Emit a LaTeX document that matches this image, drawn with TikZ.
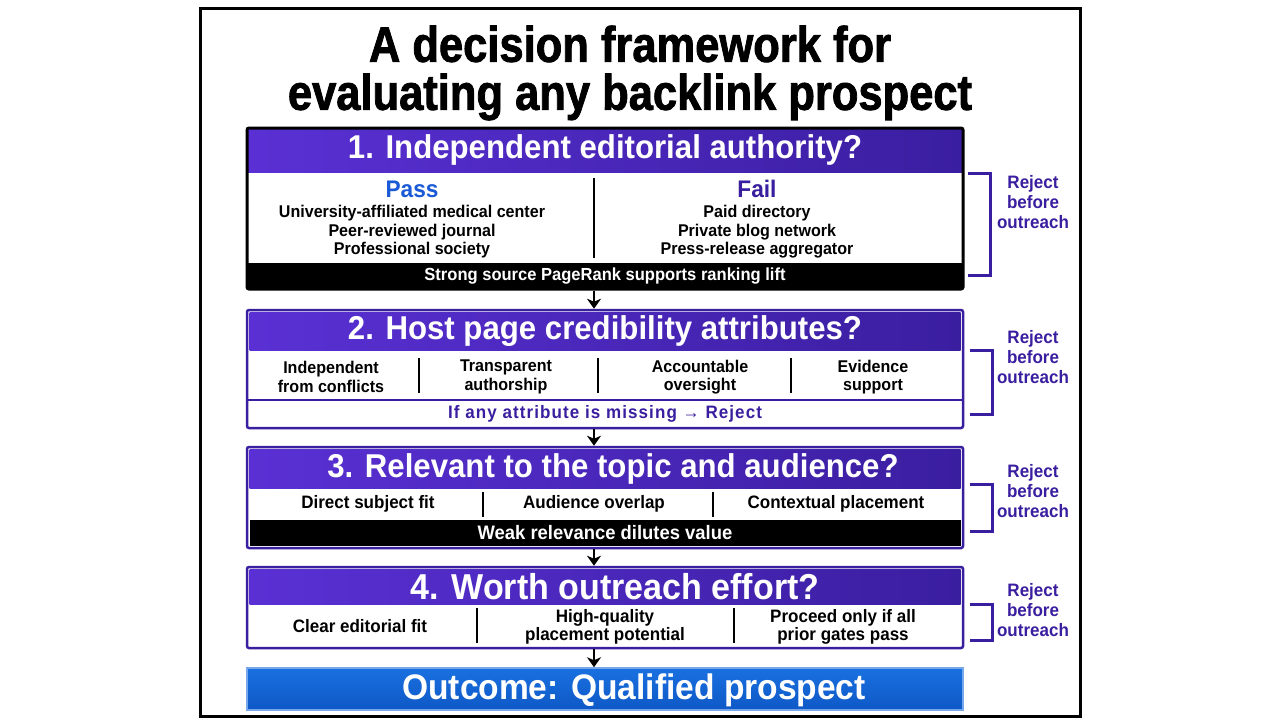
\documentclass[tikz,border=0pt]{standalone}
\usepackage{fontspec}
\setmainfont[FakeStretch=0.945]{Liberation Sans}
\newfontfamily\heavyfont[FakeStretch=0.87,FakeBold=1.6]{Liberation Sans Bold}
\newfontfamily\spacedfont[FakeStretch=0.945,LetterSpace=6]{Liberation Sans}
\usetikzlibrary{calc,arrows.meta}
\definecolor{hdpurple}{HTML}{3A1EA0}
\definecolor{hdviolet}{HTML}{5A30D4}
\definecolor{passblue}{HTML}{1A5AD6}
\definecolor{outblue}{HTML}{1A70E0}
\definecolor{outblueb}{HTML}{0E58C6}

\begin{document}
\begin{tikzpicture}[x=1pt,y=-1pt,
  hdr/.style={minimum width=716pt,inner sep=0pt,left color=hdviolet,right color=hdpurple,text=white,font=\fontsize{33}{36}\selectfont\bfseries},
  band/.style={minimum width=716pt,minimum height=26pt,inner sep=0pt,fill=black,text=white,font=\fontsize{17.5}{19}\selectfont\bfseries},
  cell/.style={align=center,inner sep=0pt,font=\fontsize{17}{18.5}\selectfont\bfseries},
  frameA/.style={draw=black,line width=3pt,rounded corners=2pt,minimum width=716pt,inner sep=0pt},
  frameB/.style={draw=hdpurple,line width=2.5pt,rounded corners=2pt,minimum width=716pt,inner sep=0pt},
  sep/.style={line width=1.5pt},
  brk/.style={draw=hdpurple,line width=3pt},
  rej/.style={align=center,inner sep=0pt,text=hdpurple,font=\fontsize{18}{20}\selectfont\bfseries},
  arr/.style={line width=2.5pt,-{Stealth[length=10pt,width=14pt,inset=3pt]}}
]
\useasboundingbox (0,0) rectangle (1280,720);
\draw[line width=3pt] (200,8) rectangle (1080,716);
\coordinate (ax) at (594,0);

% title
\node[inner sep=0pt,font=\heavyfont\fontsize{50}{48}\selectfont,align=center] (T) at (630,73)
  {A decision framework for\\evaluating any backlink prospect};

% gate 1
\node[hdr,minimum height=44pt] (H1) at (605,150) {1. Independent editorial authority?};
\node[band] (F1) at (605,276) {Strong source PageRank supports ranking lift};
\node[frameA,minimum height=161pt] (B1) at (605,208.5) {};
\draw[sep] (594,178) -- (594,258);
\node[cell,text=passblue,font=\fontsize{24}{25}\selectfont\bfseries] (P1) at (412,189) {Pass};
\node[cell] (P2) at (412,232) {University-affiliated medical center\\Peer-reviewed journal\\Professional society};
\node[cell,text=hdpurple,font=\fontsize{24}{25}\selectfont\bfseries] (X1) at (757,189) {Fail};
\node[cell] (X2) at (757,232) {Paid directory\\Private blog network\\Press-release aggregator};

% gate 2
\node[hdr,minimum width=711pt,minimum height=38pt] (H2) at (605,331) {2. Host page credibility attributes?};
\node[frameB,minimum height=118pt] (B2) at (605,369) {};
\draw[hdpurple,line width=1.2pt] (248,400) -- (962,400);
\draw[sep] (419,358) -- (419,393);
\draw[sep] (598,358) -- (598,393);
\draw[sep] (791,358) -- (791,393);
\node[cell] (C21) at (331,377) {Independent\\from conflicts};
\node[cell] (C22) at (506,377) {Transparent\\authorship};
\node[cell] (C23) at (700,377) {Accountable\\oversight};
\node[cell] (C24) at (873,377) {Evidence\\support};
\node[cell,text=hdpurple,font=\spacedfont\fontsize{18}{19}\selectfont\bfseries] (M2) at (605,414) {If any attribute is missing → Reject};

% gate 3
\node[hdr,minimum width=711pt,minimum height=39pt] (H3) at (605,468.5) {\hspace*{16pt}3. Relevant to the topic and audience?};
\node[band,minimum width=711pt,font=\fontsize{19.5}{20}\selectfont\bfseries] (F3) at (605,533) {Weak relevance dilutes value};
\node[frameB,minimum height=101pt] (B3) at (605,497.5) {};
\draw[sep] (483,492) -- (483,517);
\draw[sep] (713,492) -- (713,517);
\node[cell,font=\fontsize{18}{19}\selectfont\bfseries] (C31) at (368,504) {Direct subject fit};
\node[cell,font=\fontsize{18}{19}\selectfont\bfseries] (C32) at (594,504) {Audience overlap};
\node[cell,font=\fontsize{18}{19}\selectfont\bfseries] (C33) at (836,504) {Contextual placement};

% gate 4
\node[hdr,minimum width=711pt,minimum height=35pt,font=\fontsize{36}{38}\selectfont\bfseries] (H4) at (605,586.5) {\hspace*{20pt}4. Worth outreach effort?};
\node[frameB,minimum height=81pt] (B4) at (605,607.5) {};
\draw[sep] (477,608) -- (477,643);
\draw[sep] (734,608) -- (734,643);
\node[cell,font=\fontsize{18}{18.5}\selectfont\bfseries] (C41) at (360,626) {Clear editorial fit};
\node[cell,font=\fontsize{18}{18.5}\selectfont\bfseries] (C42) at (605,627) {High-quality\\placement potential};
\node[cell,font=\fontsize{18}{18.5}\selectfont\bfseries] (C43) at (843,627) {Proceed only if all\\prior gates pass};

% outcome
\node[minimum width=716pt,minimum height=42pt,inner sep=0pt,draw=outblue!60,line width=1.5pt,
  top color=outblue,bottom color=outblueb] (O) at (605,689) {};
\node[inner sep=0pt,text=white,font=\fontsize{35.5}{37}\selectfont\bfseries] (OT) at (634,690)
  {Outcome: Qualified prospect};

% flow
\draw[arr] (B1.south -| ax) -- (B2.north -| ax);
\draw[arr] (B2.south -| ax) -- (B3.north -| ax);
\draw[arr] (B3.south -| ax) -- (B4.north -| ax);
\draw[arr] (B4.south -| ax) -- (O.north -| ax);

% reject brackets
\draw[brk] (968,173) -- (990,173) -- (990,275) -- (968,275);
\node[rej] (R1) at (1033,202) {Reject\\before\\outreach};
\draw[brk] (970,350) -- (992,350) -- (992,414) -- (970,414);
\node[rej] (R2) at (1033,357) {Reject\\before\\outreach};
\draw[brk] (970,484) -- (992,484) -- (992,531) -- (970,531);
\node[rej] (R3) at (1033,491) {Reject\\before\\outreach};
\draw[brk] (970,604) -- (992,604) -- (992,640) -- (970,640);
\node[rej] (R4) at (1033,610) {Reject\\before\\outreach};
\end{tikzpicture}
\end{document}
